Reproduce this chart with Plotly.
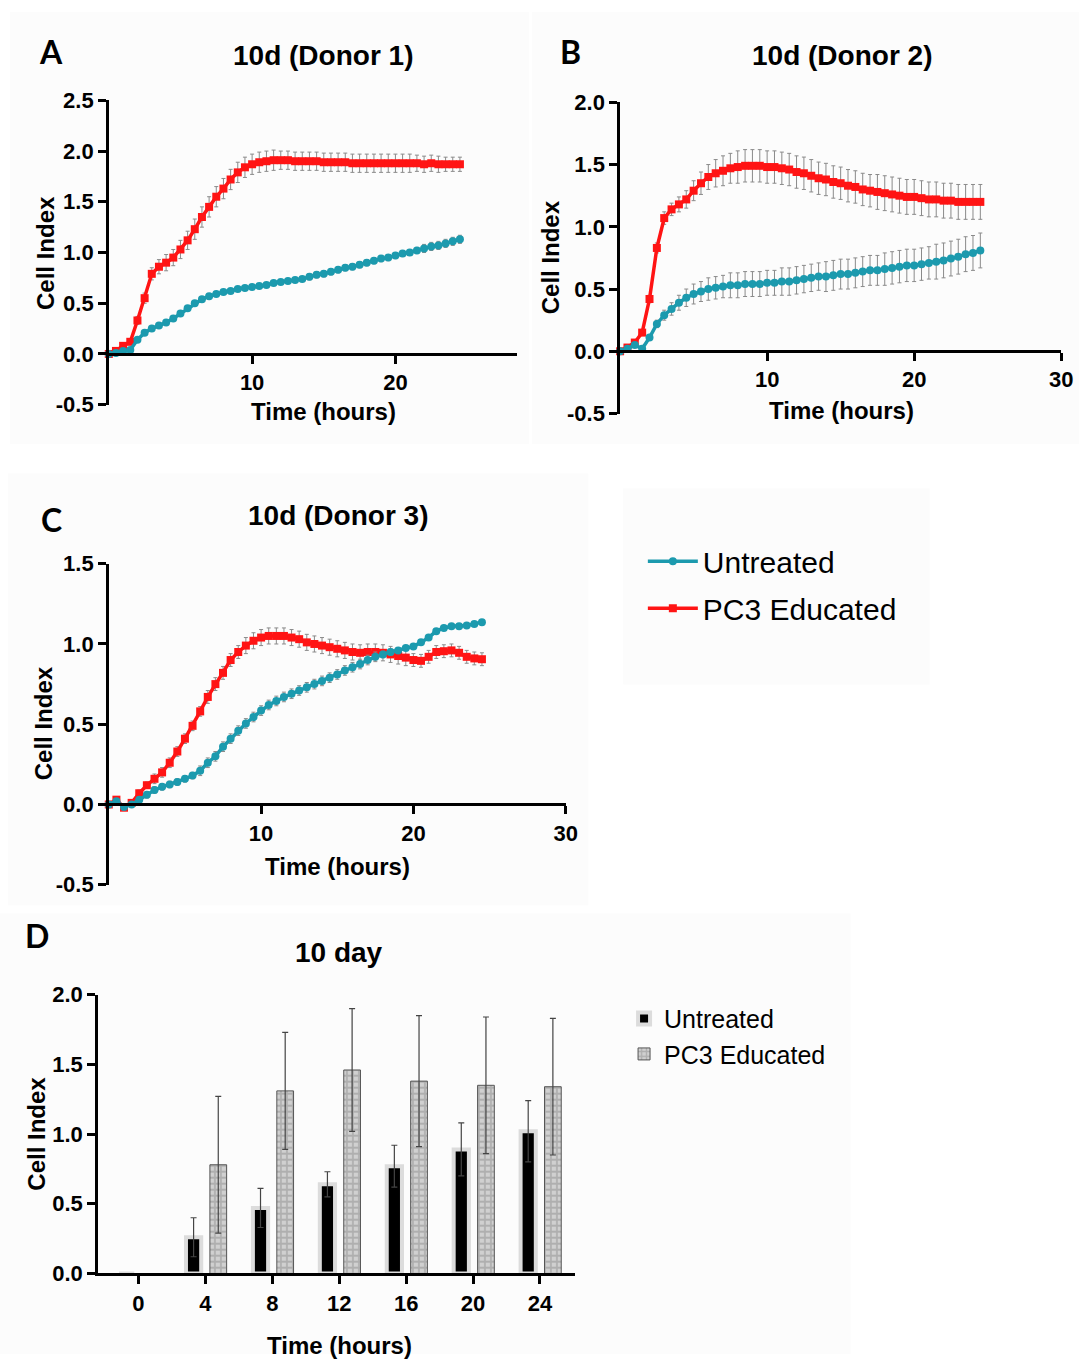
import plotly.graph_objects as go

W, H = 1091, 1367

# ---------------- data ----------------
time_h = [0.0, 0.5, 1.0, 1.5, 2.0, 2.5, 3.0, 3.5, 4.0, 4.5,
          5.0, 5.5, 6.0, 6.5, 7.0, 7.5, 8.0, 8.5, 9.0, 9.5,
          10.0, 10.5, 11.0, 11.5, 12.0, 12.5, 13.0, 13.5, 14.0, 14.5,
          15.0, 15.5, 16.0, 16.5, 17.0, 17.5, 18.0, 18.5, 19.0, 19.5,
          20.0, 20.5, 21.0, 21.5, 22.0, 22.5, 23.0, 23.5, 24.0, 24.5]

a_untreated = [0.00, 0.01, 0.03, 0.04, 0.14, 0.21, 0.25, 0.28, 0.31, 0.35,
               0.40, 0.45, 0.50, 0.54, 0.57, 0.59, 0.61, 0.62, 0.64, 0.65,
               0.66, 0.67, 0.68, 0.70, 0.71, 0.72, 0.73, 0.74, 0.76, 0.78,
               0.79, 0.81, 0.83, 0.85, 0.86, 0.88, 0.90, 0.92, 0.94, 0.95,
               0.97, 0.99, 1.00, 1.02, 1.04, 1.06, 1.07, 1.09, 1.11, 1.13]
a_untreated_err = [0.00, 0.01, 0.01, 0.01, 0.02, 0.02, 0.02, 0.02, 0.02, 0.02,
                   0.02, 0.02, 0.02, 0.02, 0.02, 0.02, 0.02, 0.02, 0.02, 0.02,
                   0.02, 0.02, 0.02, 0.02, 0.02, 0.02, 0.02, 0.02, 0.03, 0.03,
                   0.03, 0.03, 0.03, 0.03, 0.03, 0.03, 0.03, 0.03, 0.03, 0.03,
                   0.03, 0.03, 0.03, 0.03, 0.04, 0.04, 0.04, 0.04, 0.04, 0.04]
a_pc3 = [0.00, 0.03, 0.08, 0.12, 0.33, 0.55, 0.79, 0.86, 0.90, 0.95,
         1.03, 1.12, 1.23, 1.35, 1.45, 1.55, 1.63, 1.72, 1.79, 1.84,
         1.87, 1.89, 1.90, 1.91, 1.91, 1.91, 1.90, 1.90, 1.90, 1.90,
         1.89, 1.89, 1.89, 1.89, 1.88, 1.88, 1.88, 1.88, 1.88, 1.88,
         1.88, 1.88, 1.88, 1.88, 1.87, 1.88, 1.87, 1.87, 1.87, 1.87]
a_pc3_err = [0.00, 0.01, 0.02, 0.03, 0.04, 0.05, 0.06, 0.07, 0.08, 0.08,
             0.09, 0.09, 0.10, 0.10, 0.10, 0.10, 0.10, 0.10, 0.10, 0.10,
             0.10, 0.10, 0.10, 0.10, 0.09, 0.09, 0.09, 0.09, 0.09, 0.09,
             0.09, 0.09, 0.09, 0.09, 0.09, 0.09, 0.09, 0.09, 0.09, 0.09,
             0.09, 0.09, 0.09, 0.08, 0.08, 0.08, 0.08, 0.07, 0.07, 0.07]

b_untreated = [0.00, 0.02, 0.05, 0.02, 0.11, 0.22, 0.29, 0.34, 0.39, 0.43,
               0.46, 0.48, 0.50, 0.51, 0.52, 0.53, 0.53, 0.54, 0.54, 0.54,
               0.55, 0.55, 0.56, 0.56, 0.57, 0.58, 0.59, 0.60, 0.60, 0.61,
               0.62, 0.62, 0.63, 0.64, 0.65, 0.65, 0.66, 0.67, 0.68, 0.69,
               0.69, 0.70, 0.71, 0.72, 0.73, 0.745, 0.76, 0.78, 0.79, 0.81]
b_untreated_err = [0.00, 0.01, 0.01, 0.01, 0.02, 0.03, 0.04, 0.05, 0.06, 0.07,
                   0.08, 0.08, 0.09, 0.09, 0.09, 0.10, 0.10, 0.10, 0.10, 0.10,
                   0.10, 0.10, 0.11, 0.11, 0.11, 0.11, 0.11, 0.11, 0.12, 0.12,
                   0.12, 0.12, 0.12, 0.12, 0.12, 0.12, 0.13, 0.13, 0.13, 0.13,
                   0.13, 0.13, 0.13, 0.14, 0.14, 0.14, 0.14, 0.14, 0.14, 0.14]
b_pc3 = [0.00, 0.03, 0.07, 0.15, 0.42, 0.83, 1.07, 1.14, 1.18, 1.22,
         1.29, 1.35, 1.40, 1.43, 1.45, 1.47, 1.48, 1.49, 1.49, 1.49,
         1.48, 1.48, 1.47, 1.46, 1.44, 1.43, 1.41, 1.39, 1.38, 1.36,
         1.35, 1.33, 1.32, 1.30, 1.29, 1.28, 1.27, 1.26, 1.25, 1.24,
         1.24, 1.23, 1.22, 1.22, 1.21, 1.21, 1.20, 1.20, 1.20, 1.20]
b_pc3_err = [0.00, 0.01, 0.02, 0.02, 0.03, 0.04, 0.05, 0.05, 0.06, 0.07,
             0.08, 0.09, 0.10, 0.11, 0.12, 0.12, 0.13, 0.13, 0.13, 0.13,
             0.13, 0.13, 0.13, 0.13, 0.13, 0.13, 0.13, 0.13, 0.13, 0.13,
             0.13, 0.13, 0.13, 0.13, 0.13, 0.14, 0.14, 0.14, 0.14, 0.14,
             0.14, 0.14, 0.14, 0.14, 0.14, 0.14, 0.14, 0.14, 0.14, 0.14]

c_untreated = [0.00, 0.02, -0.015, 0.00, 0.03, 0.06, 0.09, 0.11, 0.125, 0.14,
               0.16, 0.18, 0.21, 0.26, 0.30, 0.36, 0.41, 0.46, 0.505, 0.545,
               0.585, 0.62, 0.645, 0.67, 0.69, 0.71, 0.73, 0.75, 0.77, 0.79,
               0.81, 0.835, 0.855, 0.875, 0.90, 0.92, 0.935, 0.95, 0.96, 0.975,
               0.985, 1.01, 1.04, 1.08, 1.10, 1.11, 1.11, 1.115, 1.125, 1.136]
c_untreated_err = [0.00, 0.01, 0.01, 0.01, 0.01, 0.02, 0.02, 0.02, 0.02, 0.02,
                   0.02, 0.02, 0.03, 0.03, 0.03, 0.03, 0.03, 0.03, 0.03, 0.03,
                   0.03, 0.03, 0.03, 0.03, 0.03, 0.03, 0.03, 0.03, 0.03, 0.03,
                   0.03, 0.03, 0.03, 0.03, 0.03, 0.03, 0.02, 0.02, 0.01, 0.01,
                   0.01, 0.01, 0.01, 0.01, 0.01, 0.01, 0.01, 0.01, 0.01, 0.01]
c_pc3 = [0.00, 0.03, -0.02, 0.01, 0.07, 0.12, 0.16, 0.20, 0.26, 0.33,
         0.41, 0.49, 0.58, 0.67, 0.75, 0.82, 0.90, 0.95, 0.99, 1.02,
         1.04, 1.05, 1.05, 1.05, 1.04, 1.03, 1.01, 1.00, 0.99, 0.98,
         0.97, 0.96, 0.95, 0.945, 0.95, 0.95, 0.945, 0.935, 0.925, 0.915,
         0.90, 0.895, 0.92, 0.95, 0.955, 0.96, 0.945, 0.92, 0.91, 0.905]
c_pc3_err = [0.00, 0.01, 0.01, 0.01, 0.02, 0.02, 0.03, 0.03, 0.03, 0.03,
             0.03, 0.03, 0.03, 0.04, 0.04, 0.04, 0.04, 0.04, 0.05, 0.05,
             0.05, 0.05, 0.05, 0.05, 0.05, 0.05, 0.05, 0.05, 0.05, 0.05,
             0.05, 0.05, 0.05, 0.05, 0.05, 0.05, 0.05, 0.05, 0.05, 0.05,
             0.04, 0.04, 0.04, 0.04, 0.04, 0.04, 0.04, 0.04, 0.04, 0.04]

bar_time = [0, 4, 8, 12, 16, 20, 24]
bar_untreated = [0.0, 0.26, 0.47, 0.64, 0.77, 0.89, 1.02]
bar_untreated_err = [0.0, 0.14, 0.14, 0.09, 0.15, 0.19, 0.22]
bar_pc3 = [0.0, 0.78, 1.31, 1.46, 1.38, 1.35, 1.34]
bar_pc3_err = [0.0, 0.49, 0.42, 0.44, 0.47, 0.49, 0.49]

series_names = ["Untreated", "PC3 Educated"]
panel_titles = ["10d (Donor 1)", "10d (Donor 2)", "10d (Donor 3)", "10 day"]
panel_letters = ["A", "B", "C", "D"]
x_title = "Time (hours)"
y_title = "Cell Index"

a_ytick_vals = [-0.5, 0.0, 0.5, 1.0, 1.5, 2.0, 2.5]
a_ytick_text = ["-0.5", "0.0", "0.5", "1.0", "1.5", "2.0", "2.5"]
b_ytick_vals = [-0.5, 0.0, 0.5, 1.0, 1.5, 2.0]
b_ytick_text = ["-0.5", "0.0", "0.5", "1.0", "1.5", "2.0"]
c_ytick_vals = [-0.5, 0.0, 0.5, 1.0, 1.5]
c_ytick_text = ["-0.5", "0.0", "0.5", "1.0", "1.5"]
d_ytick_vals = [0.0, 0.5, 1.0, 1.5, 2.0]
d_ytick_text = ["0.0", "0.5", "1.0", "1.5", "2.0"]
a_xtick_vals = [10, 20]
bc_xtick_vals = [10, 20, 30]

# ---------------- styles ----------------
TEAL = "#1c9aae"
RED = "#ff1414"
ERR = "#8a8a8a"
FONT = "Liberation Sans"


def fx(px):
    return px / W


def fy(py):
    return 1 - py / H


def zero_pos(ytop, ybot, yr):
    frac = (0 - yr[0]) / (yr[1] - yr[0])
    return fy(ybot - frac * (ybot - ytop))


fig = go.Figure()

panels = [
    ("", a_untreated, a_untreated_err, a_pc3, a_pc3_err, False),
    ("2", b_untreated, b_untreated_err, b_pc3, b_pc3_err, False),
    ("3", c_untreated, c_untreated_err, c_pc3, c_pc3_err, True),
]

for suf, unt, unt_e, pc, pc_e, show in panels:
    fig.add_trace(go.Scatter(
        x=time_h, y=pc, name=series_names[1], mode="lines+markers",
        line=dict(color=RED, width=3.5),
        marker=dict(symbol="square", size=8, color=RED),
        error_y=dict(type="data", array=pc_e, color=ERR, thickness=1, width=2),
        xaxis="x" + suf, yaxis="y" + suf, showlegend=show, legendrank=2,
        legendgroup="pc3", cliponaxis=False, legend="legend"))
    fig.add_trace(go.Scatter(
        x=time_h, y=unt, name=series_names[0], mode="lines+markers",
        line=dict(color=TEAL, width=3.5),
        marker=dict(symbol="circle", size=8, color=TEAL),
        error_y=dict(type="data", array=unt_e, color=ERR, thickness=1, width=2),
        xaxis="x" + suf, yaxis="y" + suf, showlegend=show, legendrank=1,
        legendgroup="unt", cliponaxis=False, legend="legend"))

fig.add_trace(go.Bar(
    x=bar_time, y=bar_untreated, name=series_names[0],
    offset=-1.16, width=0.91,
    marker=dict(color="black", line=dict(color="#dcdcdc", width=4)),
    error_y=dict(type="data", array=bar_untreated_err, color="#444444",
                 thickness=1.2, width=3),
    xaxis="x4", yaxis="y4", legend="legend2", legendrank=1))
fig.add_trace(go.Bar(
    x=bar_time, y=bar_pc3, name=series_names[1],
    offset=0.27, width=1.0,
    marker=dict(color="#c0c0c0", line=dict(color="#555555", width=1),
                pattern=dict(shape="+", bgcolor="#d0d0d0", fgcolor="#8e8e8e",
                             size=6, solidity=0.5)),
    error_y=dict(type="data", array=bar_pc3_err, color="#444444",
                 thickness=1.2, width=3),
    xaxis="x4", yaxis="y4", legend="legend2", legendrank=2))

tickfont = dict(family=FONT, size=22, color="black", weight="bold")
axline = dict(showline=True, linecolor="black", linewidth=2.5, ticks="outside",
              ticklen=8, tickwidth=2.5, tickcolor="black", showgrid=False,
              zeroline=False, tickfont=tickfont)

geo = {
    "": (110, 523, 90, 400, [0, 28.5], [-0.5, 2.5], a_xtick_vals, a_ytick_vals, a_ytick_text),
    "2": (627, 1073, 92, 409, [0, 30], [-0.5, 2.0], bc_xtick_vals, b_ytick_vals, b_ytick_text),
    "3": (110, 572, 562, 889, [0, 30], [-0.5, 1.5], bc_xtick_vals, c_ytick_vals, c_ytick_text),
}
layout_axes = {}
for suf, (x0, x1, yt, yb, xr, yr, xt, ytv, ytt) in geo.items():
    layout_axes["xaxis" + suf] = dict(
        domain=[fx(x0), fx(x1)], range=xr, tickvals=xt,
        ticktext=[str(v) for v in xt], anchor="free",
        position=zero_pos(yt, yb, yr), **axline)
    layout_axes["yaxis" + suf] = dict(
        domain=[fy(yb), fy(yt)], range=yr, tickvals=ytv, ticktext=ytt,
        anchor="x" + suf, **axline)

d_x0, d_x1, d_yt, d_yb = 99, 581, 1001, 1285
px_per_h = (546 - 140) / 24.0
layout_axes["xaxis4"] = dict(
    domain=[fx(d_x0), fx(d_x1)],
    range=[(d_x0 - 140) / px_per_h, (d_x1 - 140) / px_per_h],
    tickvals=bar_time, ticktext=[str(v) for v in bar_time],
    anchor="y4", **axline)
layout_axes["yaxis4"] = dict(
    domain=[fy(d_yb), fy(d_yt)], range=[0, 2.0], tickvals=d_ytick_vals,
    ticktext=d_ytick_text, anchor="x4", **axline)

ann = []
letter_font = dict(family="Lato", size=32, color="black", weight="bold")
for letter, (lx, ly) in zip(panel_letters, [(52, 40), (577, 40), (52, 517), (37, 941)]):
    ann.append(dict(text=letter, x=fx(lx), y=fy(ly), xref="paper", yref="paper",
                    showarrow=False, font=letter_font, xanchor="center", yanchor="middle"))
title_font = dict(family=FONT, size=28, color="black", weight="bold")
for t, (tx, ty) in zip(panel_titles, [(327, 44), (851, 44), (342, 513), (343, 958)]):
    ann.append(dict(text=t, x=fx(tx), y=fy(ty), xref="paper", yref="paper",
                    showarrow=False, font=title_font, xanchor="center", yanchor="middle"))
axt_font = dict(family=FONT, size=24, color="black", weight="bold")
for (tx, ty) in [(327, 407), (851, 406), (341, 870), (343, 1358)]:
    ann.append(dict(text=x_title, x=fx(tx), y=fy(ty), xref="paper", yref="paper",
                    showarrow=False, font=axt_font, xanchor="center", yanchor="middle"))
for (tx, ty) in [(46, 245), (557, 250), (44, 725), (37, 1143)]:
    ann.append(dict(text=y_title, x=fx(tx), y=fy(ty), xref="paper", yref="paper",
                    showarrow=False, font=axt_font, textangle=-90,
                    xanchor="center", yanchor="middle"))

shapes = []
for (x0, y0, x1, y1) in [(10, 0, 535, 440), (538, 0, 1091, 440), (8, 470, 595, 910),
                         (630, 485, 940, 685), (0, 918, 860, 1367)]:
    shapes.append(dict(type="rect", xref="paper", yref="paper", x0=fx(x0), x1=fx(x1),
                       y0=fy(y1), y1=fy(y0), fillcolor="#fcfcfc", line=dict(width=0),
                       layer="below"))

fig.update_layout(
    width=W, height=H, margin=dict(l=0, r=0, t=0, b=0),
    paper_bgcolor="white", plot_bgcolor="rgba(0,0,0,0)",
    barmode="overlay", showlegend=True,
    annotations=ann, shapes=shapes,
    legend=dict(x=fx(650), y=fy(533), xanchor="left", yanchor="top",
                font=dict(family=FONT, size=30, color="black"),
                bgcolor="rgba(0,0,0,0)", itemwidth=50,
                traceorder="grouped", tracegroupgap=5),
    legend2=dict(x=fx(631), y=fy(1002), xanchor="left", yanchor="top",
                 font=dict(family=FONT, size=25, color="black"),
                 bgcolor="rgba(0,0,0,0)"),
    **layout_axes,
)

fig.write_html("out.html")
